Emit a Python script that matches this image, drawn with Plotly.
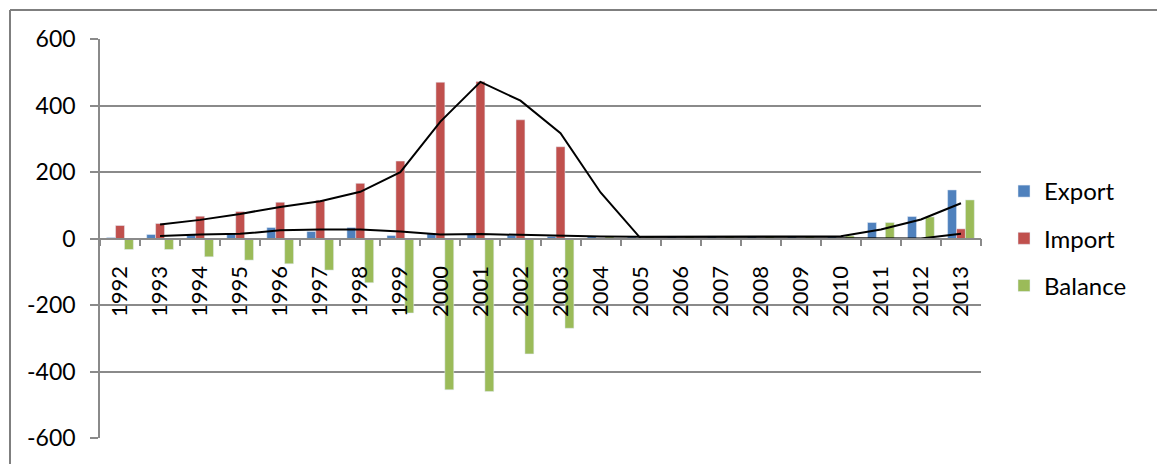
import plotly.graph_objects as go

# Annual trade figures
years = [str(y) for y in range(1992, 2014)]
export_vals = [3, 12, 12, 16, 33, 21, 33, 9, 15, 12, 10, 6,
               6, 5, 6, 7, 6, 7, 6, 48, 66, 146]
import_vals = [39, 45, 67, 81, 109, 115, 166, 233, 470, 472, 357, 276,
               1, 0, 0, 1, 0, 1, 0, 0, 0, 29]
balance_vals = [-33, -33, -55, -65, -76, -95, -133, -224, -455, -460, -347, -270,
                5, 5, 6, 6, 6, 6, 8, 48, 65, 116]

y_ticks = [600, 400, 200, 0, -200, -400, -600]
y_tick_text = ["600", "400", "200", "0", "-200", "-400", "-600"]


def moving_average(vals, period=2):
    return [sum(vals[i - period + 1:i + 1]) / period for i in range(period - 1, len(vals))]


FONT = "Lato, 'Liberation Sans', Arial, sans-serif"
GRID = "#8a8a8a"

fig = go.Figure()
fig.add_bar(x=years, y=export_vals, name="Export", marker_color="#4F81BD",
            legendgroup="e")
fig.add_bar(x=years, y=import_vals, name="Import", marker_color="#C0504D",
            legendgroup="i")
fig.add_bar(x=years, y=balance_vals, name="Balance", marker_color="#9BBB59",
            legendgroup="b")

# Two-period moving-average trend lines
fig.add_scatter(x=years[1:], y=moving_average(import_vals), mode="lines",
                line=dict(color="black", width=2), showlegend=False, hoverinfo="skip")
fig.add_scatter(x=years[1:], y=moving_average(export_vals), mode="lines",
                line=dict(color="black", width=2), showlegend=False, hoverinfo="skip")

L, R, T, B = 100, 176, 39, 26
W, H = 1157, 464
pw, ph = W - L - R, H - T - B


def px_x(p):
    return (p - L) / pw


def px_y(p):
    return (H - B - p) / ph


fig.update_layout(
    width=W, height=H,
    margin=dict(l=L, r=R, t=T, b=B),
    paper_bgcolor="white", plot_bgcolor="white",
    font=dict(family=FONT, size=22, color="black"),
    barmode="group", bargap=0.333, bargroupgap=0,
    showlegend=True,
    legend=dict(x=px_x(1004), xanchor="left", y=0.5, yanchor="middle",
                font=dict(size=24), tracegroupgap=13,
                bgcolor="rgba(0,0,0,0)"),
    xaxis=dict(
        type="category", anchor="free", position=0.5,
        showline=True, linecolor=GRID, linewidth=1.5,
        ticks="outside", ticklen=7, tickcolor=GRID, tickwidth=1.5,
        tickson="boundaries", tickangle=-90, ticklabelstandoff=18,
        showgrid=False, zeroline=False,
        tickfont=dict(size=22),
    ),
    yaxis=dict(
        range=[-600, 600], tickvals=y_ticks, ticktext=y_tick_text,
        showline=True, linecolor=GRID, linewidth=1.5,
        ticks="outside", ticklen=8, tickcolor=GRID, tickwidth=1.5,
        showgrid=True, gridcolor=GRID, gridwidth=1.5,
        zeroline=False, ticklabelstandoff=10,
        tickfont=dict(size=23),
    ),
    shapes=[
        dict(type="line", xref="paper", yref="paper",
             x0=px_x(10), x1=px_x(10), y0=px_y(10), y1=px_y(480),
             line=dict(color="#7f7f7f", width=2)),
        dict(type="line", xref="paper", yref="paper",
             x0=px_x(10), x1=px_x(1180), y0=px_y(10), y1=px_y(10),
             line=dict(color="#7f7f7f", width=2)),
    ],
)

fig.write_html("out.html")
